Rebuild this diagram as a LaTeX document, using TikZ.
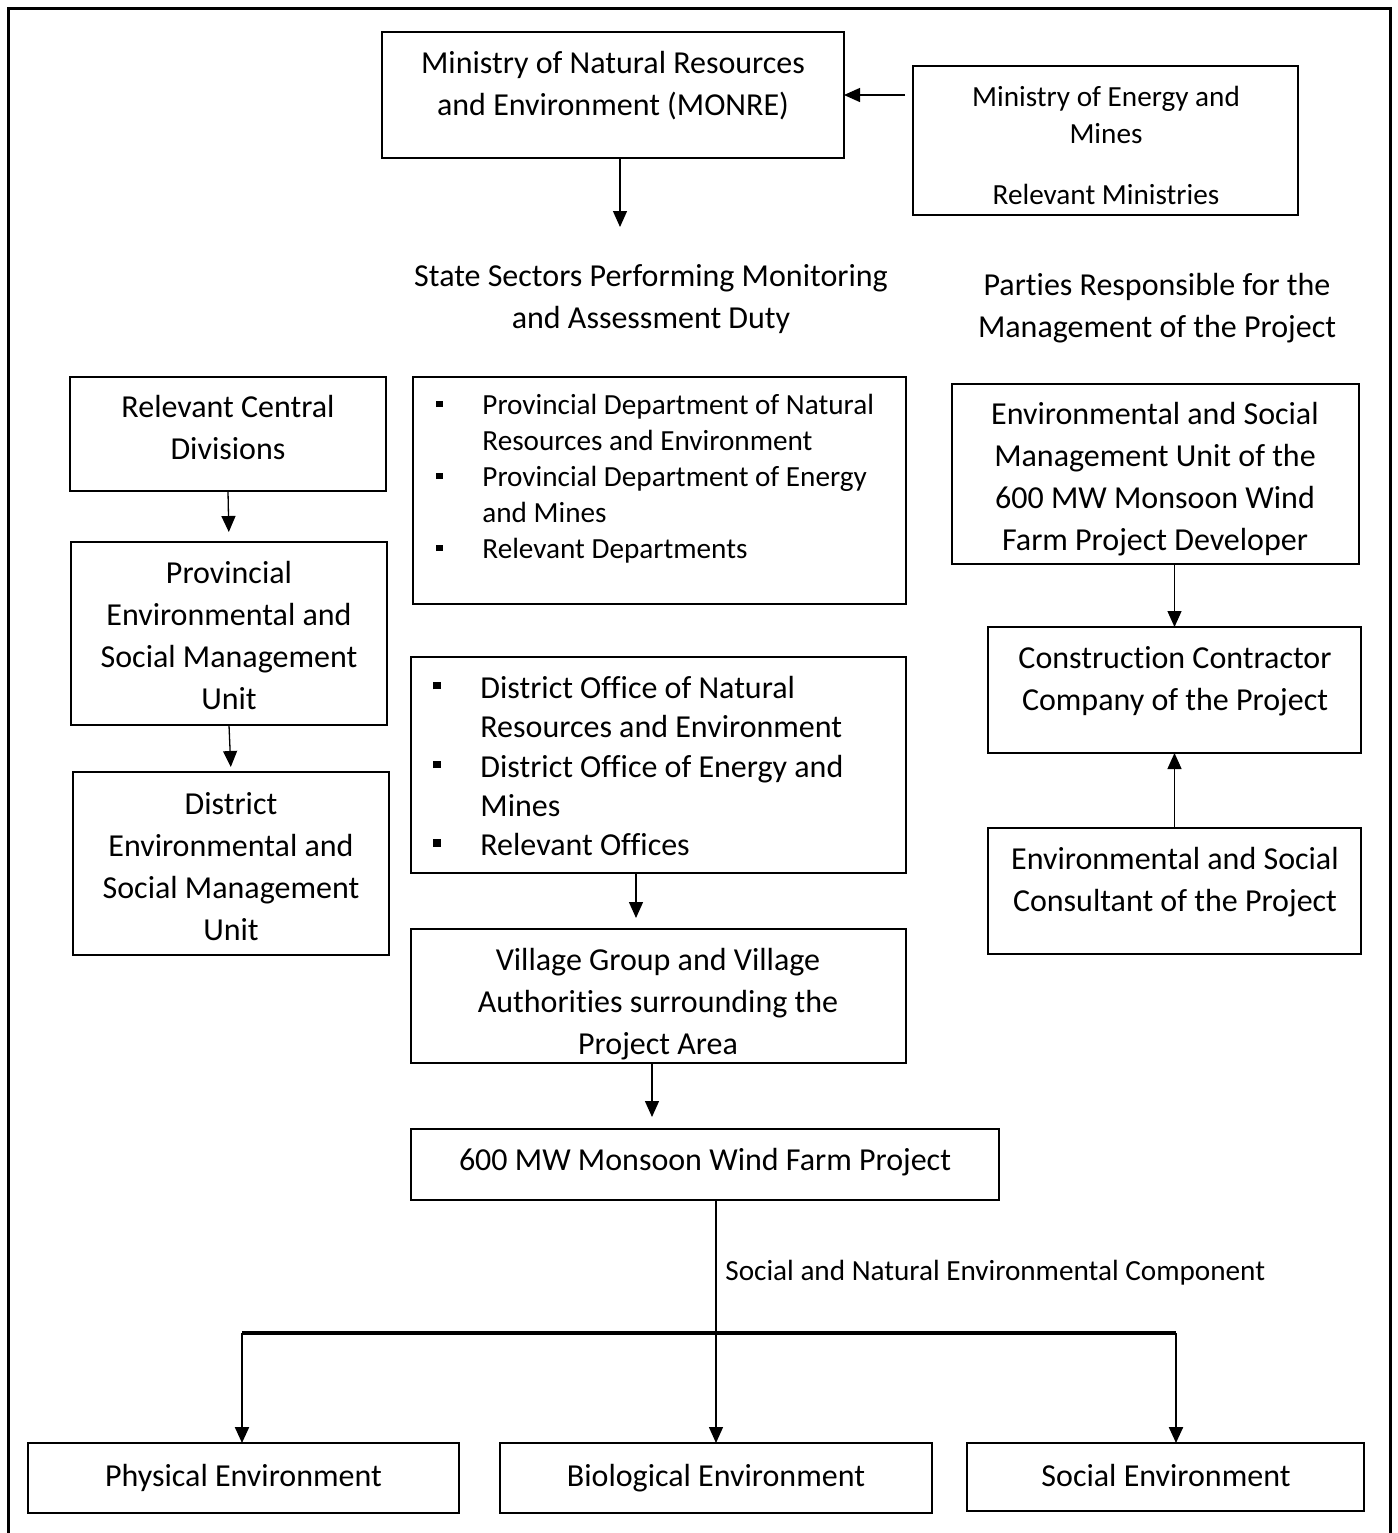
\documentclass[tikz,border=0pt]{standalone}
\usepackage{fontspec}
\setmainfont{Carlito}[Ligatures={NoCommon}]
\usetikzlibrary{arrows.meta}
\newcommand\fA{\fontsize{16pt}{21pt}\selectfont}
\newcommand\fB{\fontsize{14.6pt}{18pt}\selectfont}
\newcommand\fE{\fontsize{14.6pt}{18.5pt}\selectfont}
\newcommand\fD{\fontsize{16pt}{19.65pt}\selectfont}
\newcommand\blA{\makebox[23pt][l]{\rule[3.8pt]{3.2pt}{3.2pt}}}
\newcommand\blB{\makebox[23.5pt][l]{\rule[4.5pt]{3.6pt}{3.6pt}}}
\begin{document}
\begin{tikzpicture}[x=0.5pt,y=-0.5pt,
  box/.style={draw, line width=0.7pt, inner sep=0pt, outer sep=0pt, anchor=north west},
  txt/.style={inner sep=0pt, align=center, font=\fA},
  arr/.style={line width=0.65pt, -{Triangle[width=7pt,length=8pt]}},
  droparr/.style={line width=1.1pt, -{Triangle[width=7pt,length=8pt]}},
]
\useasboundingbox (0,0) rectangle (1398,1533);
\draw[line width=1.5pt] (8.7,1545) -- (8.7,8.7) -- (1390.5,8.7) -- (1390.5,1545);

% boxes
\node[box, minimum width={(844-382)*0.5pt}, minimum height={(158-32)*0.5pt}] (monre) at (382,32) {};
\node[box, minimum width={(1298-913)*0.5pt}, minimum height={(215-66)*0.5pt}] (energy) at (913,66) {};
\node[box, minimum width={(386-70)*0.5pt}, minimum height={(491-377)*0.5pt}] (rcd) at (70,377) {};
\node[box, minimum width={(387-71)*0.5pt}, minimum height={(725-542)*0.5pt}] (pesm) at (71,542) {};
\node[box, minimum width={(389-73)*0.5pt}, minimum height={(955-772)*0.5pt}] (desm) at (73,772) {};
\node[box, minimum width={(906-413)*0.5pt}, minimum height={(604-377)*0.5pt}] (plist) at (413,377) {};
\node[box, minimum width={(906-411)*0.5pt}, minimum height={(873-657)*0.5pt}] (dlist) at (411,657) {};
\node[box, minimum width={(906-411)*0.5pt}, minimum height={(1063-929)*0.5pt}] (village) at (411,929) {};
\node[box, minimum width={(999-411)*0.5pt}, minimum height={(1200-1129)*0.5pt}] (mw) at (411,1129) {};
\node[box, minimum width={(1359-952)*0.5pt}, minimum height={(564-384)*0.5pt}] (esmu) at (952,384) {};
\node[box, minimum width={(1361-988)*0.5pt}, minimum height={(753-627)*0.5pt}] (cc) at (988,627) {};
\node[box, minimum width={(1361-988)*0.5pt}, minimum height={(954-828)*0.5pt}] (cons) at (988,828) {};
\node[box, minimum width={(459-28)*0.5pt}, minimum height={(1513-1443)*0.5pt}] (phys) at (28,1443) {};
\node[box, minimum width={(932-500)*0.5pt}, minimum height={(1513-1443)*0.5pt}] (bio) at (500,1443) {};
\node[box, minimum width={(1364-967)*0.5pt}, minimum height={(1511-1443)*0.5pt}] (soc) at (967,1443) {};

% texts
\node[txt] (monreT) at (613,86) {Ministry of Natural Resources\\and Environment (MONRE)};
\node[txt, font=\fE] (energyT) at (1106,145) {Ministry of Energy and\\Mines\\[12pt]Relevant Ministries};
\node[txt] (headT) at (651,299) {State Sectors Performing Monitoring\\and Assessment Duty};
\node[txt] (partT) at (1157,308) {Parties Responsible for the\\Management of the Project};
\node[txt] (rcdT) at (228,427) {Relevant Central\\Divisions};
\node[txt] (pesmT) at (229,635) {Provincial\\Environmental and\\Social Management\\Unit};
\node[txt] (desmT) at (231,867) {District\\Environmental and\\Social Management\\Unit};
\node[txt, align=left, font=\fB, anchor=west] (plistT) at (436,479) {\blA Provincial Department of Natural\\\hspace*{23pt}Resources and Environment\\\blA Provincial Department of Energy\\\hspace*{23pt}and Mines\\\blA Relevant Departments};
\node[txt, align=left, font=\fD, anchor=west] (dlistT) at (433,766) {\blB District Office of Natural\\\hspace*{23.5pt}Resources and Environment\\\blB District Office of Energy and\\\hspace*{23.5pt}Mines\\\blB Relevant Offices};
\node[txt] (villageT) at (658,1004) {Village Group and Village\\Authorities surrounding the\\Project Area};
\node[txt, anchor=base] (mwT) at (705,1170) {600 MW Monsoon Wind Farm Project};
\node[txt, font=\fB, anchor=west] (labT) at (725,1273) {Social and Natural Environmental Component};
\node[txt, anchor=base] (physT) at (243.5,1486) {Physical Environment};
\node[txt, anchor=base] (bioT) at (716,1486) {Biological Environment};
\node[txt, anchor=base] (socT) at (1166,1486) {Social Environment};
\node[txt] (esmuT) at (1155,479) {Environmental and Social\\Management Unit of the\\600 MW Monsoon Wind\\Farm Project Developer};
\node[txt] (ccT) at (1175,681) {Construction Contractor\\Company of the Project};
\node[txt] (consT) at (1175,882) {Environmental and Social\\Consultant of the Project};

% connectors
\coordinate (a1) at (620,227);
\coordinate (a2) at (636,918);
\coordinate (a3) at (652,1117);
\coordinate (j1) at (242,1333);
\coordinate (j2) at (1176,1333);
\draw[arr, shorten <=4pt] (energy.west |- monre.east) -- (monre.east);
\draw[arr] (monre.south -| a1) -- (a1);
\draw[arr, shorten >=5pt] (rcd.south) -- (pesm.north);
\draw[arr, shorten >=2.5pt] (pesm.south) -- (desm.north);
\draw[arr] (dlist.south -| a2) -- (a2);
\draw[arr] (village.south -| a3) -- (a3);
\draw[arr] (mw.south -| bio.north) -- (bio.north);
\draw[line width=2pt] (j1) -- (j2);
\draw[droparr] (j1) -- (j1 |- phys.north);
\draw[droparr] (j2) -- (j2 |- soc.north);
\draw[arr] (esmu.south -| cc.north) -- (cc.north);
\draw[arr] (cons.north) -- (cc.south);
\end{tikzpicture}
\end{document}
